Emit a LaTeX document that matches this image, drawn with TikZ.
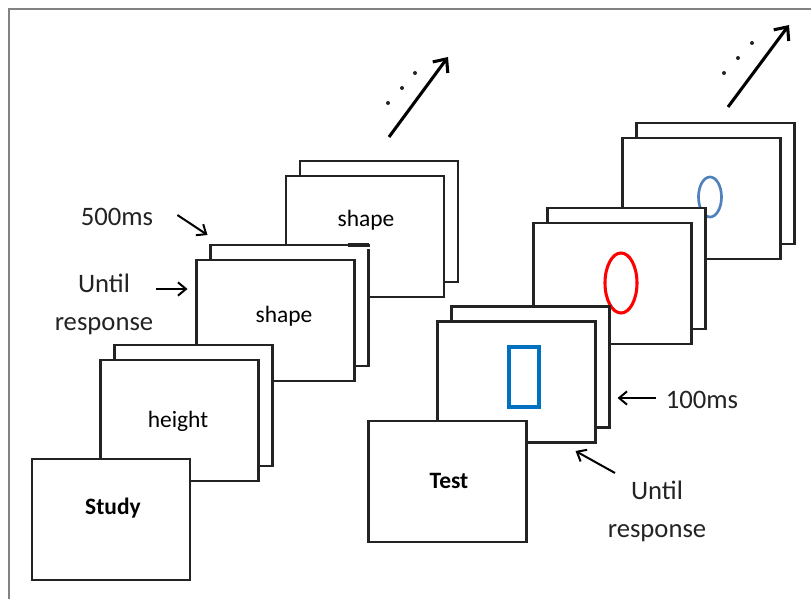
\documentclass[tikz,border=0pt]{standalone}
\usepackage{fontspec}
\setmainfont{Carlito}
\usetikzlibrary{arrows.meta}
\definecolor{Frame}{RGB}{130,130,130}
\definecolor{Ink}{RGB}{35,35,35}
\definecolor{CueRed}{RGB}{255,0,0}
\definecolor{CueBlue}{RGB}{0,112,192}
\definecolor{CueSteel}{RGB}{79,129,189}
\tikzset{
  card/.style={draw=Ink,fill=white,line width=1.8pt,minimum width=118.5pt,
    minimum height=90.75pt,inner sep=0pt,outer sep=0pt},
  cardtext/.style={inner sep=0pt,font=\fontsize{17.6}{21}\selectfont},
  timing/.style={inner sep=0pt,align=center,text=Ink,font=\fontsize{20}{28.5}\selectfont},
  cue/.style={line width=1.5pt,-{Straight Barb[length=6pt,width=10pt]}},
  onward/.style={line width=2.3pt,-{Straight Barb[length=8pt,width=14pt]}},
}
\newcommand{\CardPair}[3]{% name x y (front card; back card sits up and right)
\node[card] (#1back) at (#2+14,#3-15) {};
\node[card] (#1) at (#2,#3) {};
}

\begin{document}
\begin{tikzpicture}[x=0.75pt,y=-0.75pt]
\useasboundingbox (0,0) rectangle (811,599);
\draw[Frame,line width=1.5pt] (9,610) -- (9,9) -- (820,9);
% study phase
\CardPair{shapeB}{365}{236.5}
\node[cardtext] (shapeBtxt) at (366,220) {shape};
\CardPair{shapeA}{275.5}{320.5}
% glitch at the top right corner of the back card
\draw[Ink,line width=2.6pt] (348,245) -- (368.5,245);
\draw[white,line width=2.6pt] (368.5,246.6) -- (368.5,249.5);
\node[cardtext] (shapeAtxt) at (284,316) {shape};
\CardPair{height}{179.5}{420.5}
\node[cardtext] (heighttxt) at (178,421) {height};
\node[card] (study) at (111,519.5) {};
\node[cardtext,font=\fontsize{17.6}{21}\selectfont\bfseries] (studytxt) at (113,508) {Study};
% test phase
\CardPair{oval}{701.5}{198.5}
\draw[CueSteel,line width=2pt] (710,197) ellipse [x radius=11.5,y radius=20];
\CardPair{bigoval}{612.5}{283.5}
\draw[CueRed,line width=2.3pt] (621,283) ellipse [x radius=16,y radius=30];
\CardPair{bar}{516.5}{382}
\draw[CueBlue,line width=2.3pt] (509,347) rectangle (539,407);
\node[card] (test) at (447.5,481.5) {};
\node[cardtext,font=\fontsize{17.6}{21}\selectfont\bfseries] (testtxt) at (449,481) {Test};
% timing labels
\node[timing] (t500) at (117,217) {500ms};
\node[timing] (untilL) at (104,304) {Until\\response};
\node[timing] (t100) at (702,400) {100ms};
\node[timing] (untilR) at (657,511) {Until\\response};
\draw[cue] ([shift={(24,-2)}]t500.east) -- ([shift={(-3,-10)}]shapeAback.north west);
\draw[cue] ([shift={(3,-15)}]untilL.east) -- ([shift={(-9,-31.5)}]shapeA.west);
\draw[cue] ([shift={(-10,-2)}]t100.west) -- ([shift={(8,31)}]barback.east);
\draw[cue] ([shift={(-42,-38)}]untilR.center) -- ([shift={(-20,8.5)}]bar.south east);
% more trials follow
\coordinate (moreA) at (389,137);
\coordinate (moreAend) at (448,57);
\coordinate (moreB) at (728,107);
\coordinate (moreBend) at (789,25);
\draw[onward] (moreA) -- (moreAend);
\draw[onward] (moreB) -- (moreBend);
\foreach \p in {(388,103),(402,88),(415,73),(724,73),(738,58),(752,43)}
  \fill[Ink] \p circle[radius=2];
\end{tikzpicture}
\end{document}
